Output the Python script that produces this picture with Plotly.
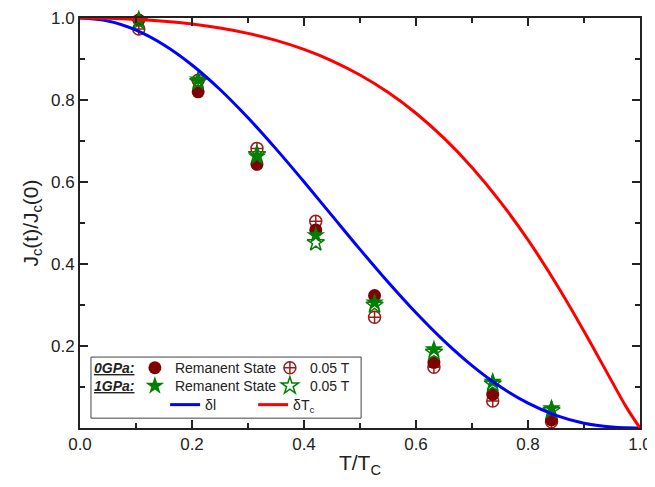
import plotly.graph_objects as go

# Reduced temperature of the measured points
t_pts = [0.105, 0.211, 0.316, 0.421, 0.526, 0.632, 0.737, 0.842]
rem_0gpa = [0.995, 0.820, 0.643, 0.483, 0.323, 0.160, 0.082, 0.020]
f005_0gpa = [0.973, 0.848, 0.682, 0.504, 0.270, 0.148, 0.066, 0.015]
rem_1gpa = [0.997, 0.850, 0.662, 0.470, 0.306, 0.192, 0.113, 0.048]
f005_1gpa = [0.992, 0.845, 0.667, 0.452, 0.300, 0.185, 0.108, 0.043]

# Model curves
t_curve = [0.0, 0.05, 0.1, 0.15, 0.2, 0.25, 0.3, 0.35, 0.4, 0.45, 0.5,
           0.55, 0.6, 0.65, 0.7, 0.75, 0.8, 0.85, 0.9, 0.95, 0.975, 1.0]
delta_l = [1.0, 0.9925, 0.9703, 0.9342, 0.8854, 0.8256, 0.7566, 0.6808, 0.6005,
           0.5179, 0.4357, 0.3560, 0.2810, 0.2125, 0.1522, 0.1013, 0.0607,
           0.0309, 0.0117, 0.0022, 0.0004, 0.0]
delta_tc = [1.0, 0.9992, 0.9966, 0.9920, 0.9852, 0.9755, 0.9625, 0.9454, 0.9234,
            0.8956, 0.8610, 0.8187, 0.7677, 0.7069, 0.6356, 0.5529, 0.4586,
            0.3526, 0.2362, 0.1131, 0.0522, 0.0]

x_ticks = [0.0, 0.2, 0.4, 0.6, 0.8, 1.0]
y_ticks = [0.2, 0.4, 0.6, 0.8, 1.0]

FONT = "Arial, Liberation Sans, sans-serif"
DARKRED = "#800000"
CROSSRED = "#9b1c1c"
GREEN = "#008000"

fig = go.Figure()

fig.add_trace(go.Scatter(x=t_pts, y=f005_0gpa, mode="markers", name="0.05 T",
                         legend="legend",
                         marker=dict(symbol="circle-cross-open", size=12, color=CROSSRED,
                                     line=dict(width=1.5)),
                         cliponaxis=False, legendrank=2))
fig.add_trace(go.Scatter(x=t_pts, y=rem_0gpa, mode="markers", name="Remanent State",
                         legend="legend",
                         marker=dict(symbol="circle", size=13, color=DARKRED),
                         cliponaxis=False, legendrank=1))
fig.add_trace(go.Scatter(x=t_pts, y=f005_1gpa, mode="markers", name="0.05 T",
                         legend="legend2",
                         marker=dict(symbol="star-open", size=13, color=GREEN,
                                     line=dict(width=1.5)),
                         cliponaxis=False, legendrank=2))
fig.add_trace(go.Scatter(x=t_pts, y=rem_1gpa, mode="markers", name="Remanent State",
                         legend="legend2",
                         marker=dict(symbol="star", size=14, color=GREEN),
                         cliponaxis=False, legendrank=1))
fig.add_trace(go.Scatter(x=t_curve, y=delta_l, mode="lines", name="δl",
                         legend="legend3", line=dict(color="#0000ff", width=3, shape="spline"),
                         legendrank=1))
fig.add_trace(go.Scatter(x=t_curve, y=delta_tc, mode="lines", name="δT<sub>c</sub>",
                         legend="legend3", line=dict(color="#ff0000", width=3, shape="spline"),
                         cliponaxis=False, legendrank=2))

leg_common = dict(orientation="h", bgcolor="rgba(0,0,0,0)", borderwidth=0,
                  font=dict(family=FONT, size=14, color="#222"),
                  xanchor="left", yanchor="middle", entrywidthmode="pixels",
                  traceorder="normal", itemclick=False)

fig.update_layout(
    width=647, height=471,
    margin=dict(l=72, r=15, t=10, b=51),
    paper_bgcolor="white", plot_bgcolor="white",
    font=dict(family=FONT, color="#222"),
    showlegend=True,
    legend=dict(**leg_common, x=0.098, y=0.146, entrywidth=90),
    legend2=dict(**leg_common, x=0.098, y=0.102, entrywidth=90),
    legend3=dict(**leg_common, x=0.152, y=0.056, entrywidth=43),
    xaxis=dict(range=[0, 1], tickvals=x_ticks, tickformat=".1f", automargin=False,
               ticklabeloverflow="allow",
               ticks="inside", ticklen=8, tickwidth=1.5, tickcolor="#222",
               minor=dict(dtick=0.1, tick0=0, ticks="inside", ticklen=5, tickwidth=1.5,
                          tickcolor="#222"),
               showline=True, linecolor="#222", linewidth=2, mirror="ticks",
               showgrid=False, zeroline=False,
               tickfont=dict(size=17, family=FONT, color="#222"),
               title=dict(text="T/T<sub>C</sub>", font=dict(size=21, family=FONT, color="#222"),
                          standoff=2)),
    yaxis=dict(range=[0, 1], tickvals=y_ticks, tickformat=".1f", automargin=False,
               ticklabeloverflow="allow",
               ticks="inside", ticklen=8, tickwidth=1.5, tickcolor="#222",
               minor=dict(tickvals=[0.1, 0.3, 0.5, 0.7, 0.9], ticks="inside", ticklen=5,
                          tickwidth=1.5, tickcolor="#222"),
               showline=True, linecolor="#222", linewidth=2, mirror="ticks",
               showgrid=False, zeroline=False,
               tickfont=dict(size=17, family=FONT, color="#222"),
               title=dict(text="J<sub>c</sub>(t)/J<sub>c</sub>(0)",
                          font=dict(size=21, family=FONT, color="#222"), standoff=7)),
    shapes=[dict(type="rect", xref="paper", yref="paper", x0=0.0196, x1=0.502,
                 y0=0.024, y1=0.173, line=dict(color="#444", width=1),
                 fillcolor="white", layer="below")],
    annotations=[
        dict(text="<b><i><u>0GPa:</u></i></b>", xref="paper", yref="paper", x=0.021, y=0.146,
             xanchor="left", yanchor="middle", showarrow=False,
             font=dict(size=14, family=FONT, color="#222")),
        dict(text="<b><i><u>1GPa:</u></i></b>", xref="paper", yref="paper", x=0.021, y=0.102,
             xanchor="left", yanchor="middle", showarrow=False,
             font=dict(size=14, family=FONT, color="#222")),
    ],
)

fig.write_html("out.html")
